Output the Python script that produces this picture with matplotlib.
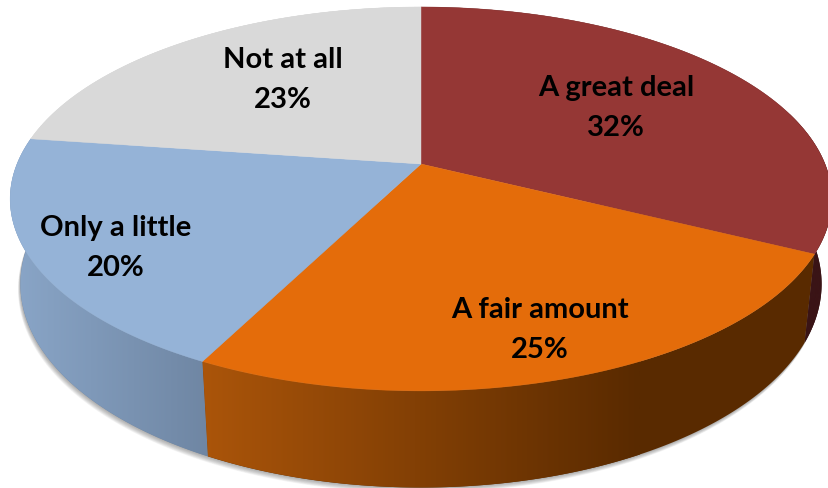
import matplotlib
matplotlib.use("Agg")
import matplotlib.pyplot as plt
from matplotlib.colors import LinearSegmentedColormap
from matplotlib.patches import Polygon
import numpy as np

labels = ["A great deal", "A fair amount", "Only a little", "Not at all"]
shares = [32, 25, 20, 23]

top_colors = ["#953735", "#E46C0A", "#95B3D7", "#D9D9D9"]
# left and right end of the gradient on the side wall of each slice
wall_colors = [("#3A1416", "#3A1416"), ("#AD560A", "#592A00"), ("#8AA6C8", "#6E85A2"), ("#D9D9D9", "#D9D9D9")]
wall_ranges = [(790, 829), (190, 640), (10, 215), (0, 421)]
label_pos = [(616, 108), (540, 330), (116, 248), (283, 80)]

# perspective of the pie, in pixels
CX, CY = 421, 165
RX, RY = 404, 185.6
TILT = 0.182
WARP = 0.016  # the 3d view turns the angles a little


def top_edge(t):
    t = t + WARP * (1 - np.cos(t))
    w = 1 + TILT * np.cos(t)
    return CX + RX * np.sin(t) / w, CY - RY * np.cos(t) / w


def bottom_edge(t):
    x, y = top_edge(t)
    return CX + 0.975 * (x - CX), 248 + 1.06 * (y - CY)


def arc(func, t0, t1, n=200):
    x, y = func(np.linspace(t0, t1, n))
    return np.column_stack([x, y])


fig = plt.figure(figsize=(8.29, 4.89), dpi=100)
ax = fig.add_axes([0, 0, 1, 1])
ax.axis("off")

# soft shadow under the rim
rim = arc(bottom_edge, np.pi * 0.42, np.pi * 1.58)
for off in np.linspace(6, 0.5, 10):
    ax.add_patch(Polygon(rim + [-0.4 * off, off * 0.9], closed=True, color="#555555", alpha=0.06, lw=0))

edges = np.cumsum([0] + shares) / sum(shares) * 2 * np.pi

# side walls first, the top faces go over them
for i in [3, 2, 0, 1]:
    t0, t1 = edges[i], edges[i + 1]
    poly = np.vstack([arc(top_edge, t0, t1), arc(bottom_edge, t1, t0)])
    patch = Polygon(poly, closed=True, transform=ax.transData, color=wall_colors[i][1], lw=0)
    ax.add_patch(patch)
    cmap = LinearSegmentedColormap.from_list("wall", wall_colors[i])
    im = ax.imshow(np.linspace(0, 1, 256)[None, :], cmap=cmap, aspect="auto",
                   extent=(wall_ranges[i][0], wall_ranges[i][1], 489, 0), zorder=2)
    im.set_clip_path(patch)

for i in range(len(shares)):
    poly = np.vstack([[CX, CY], arc(top_edge, edges[i], edges[i + 1])])
    ax.add_patch(Polygon(poly, closed=True, color=top_colors[i], lw=0.3, zorder=3))

for name, share, (x, y) in zip(labels, shares, label_pos):
    ax.text(x, y, f"{name}\n{share}%", ha="center", va="center", family="Lato", weight="bold",
            fontsize=21, color="black", linespacing=1.65, zorder=4)

ax.set_xlim(0, 829)
ax.set_ylim(489, 0)
fig.savefig("out.png", dpi=100)
